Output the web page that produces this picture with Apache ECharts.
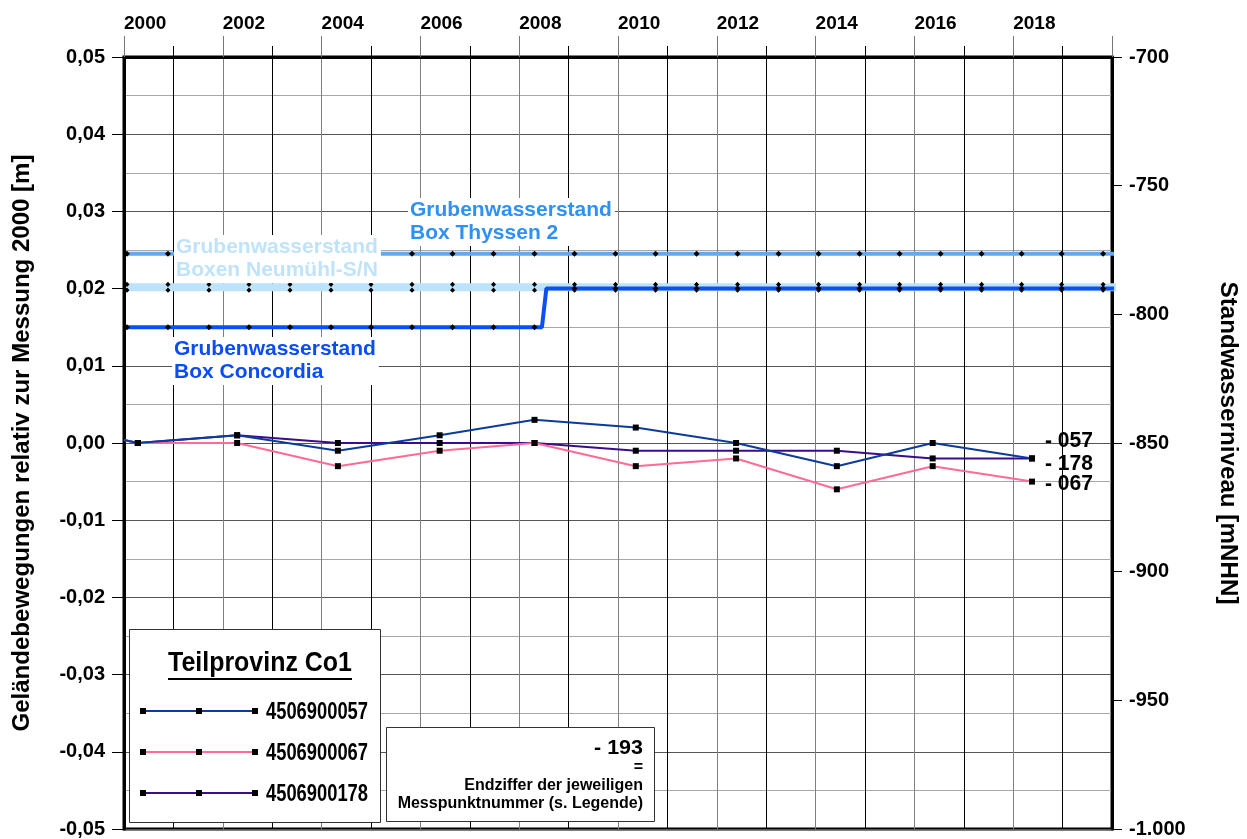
<!DOCTYPE html>
<html>
<head>
<meta charset="utf-8">
<script src="https://cdn.jsdelivr.net/npm/echarts@6/dist/echarts.min.js"></script>
<style>
  html, body { margin: 0; padding: 0; background: #fff; }
  #chart { width: 1247px; height: 839px; }
</style>
</head>
<body>
<div id="chart"></div>
<script>
// measurement campaigns (decimal years)
const years = [2000.28, 2002.29, 2004.33, 2006.39, 2008.31, 2010.36, 2012.39, 2014.43, 2016.37, 2018.38];
const mp057 = [0.000, 0.001, -0.001, 0.001, 0.003, 0.002, 0.000, -0.003, 0.000, -0.002];
const mp067 = [0.000, 0.000, -0.003, -0.001, 0.000, -0.003, -0.002, -0.006, -0.003, -0.005];
const mp178 = [0.000, 0.001, 0.000, 0.000, 0.000, -0.001, -0.001, -0.001, -0.002, -0.002];
const leadInYear = 2000.0;
const leadInValue = 0.0004;

// groundwater levels (right axis, mNHN)
const gwYears = [2000.06, 2000.89, 2001.72, 2002.53, 2003.36, 2004.19, 2005.00, 2005.83, 2006.65,
  2007.48, 2008.31, 2009.12, 2009.95, 2010.76, 2011.59, 2012.42, 2013.25, 2014.06, 2014.89,
  2015.70, 2016.53, 2017.36, 2018.17, 2018.98, 2019.82, 2020.10];
const thyssen = [-776.5, -776.5, -776.5, -776.5, -776.5, -776.5, -776.5, -776.5, -776.5,
  -776.5, -776.5, -776.5, -776.5, -776.5, -776.5, -776.5, -776.5, -776.5, -776.5,
  -776.5, -776.5, -776.5, -776.5, -776.5, -776.5, -776.5];
const neumuehl = [-789.5, -789.5, -789.5, -789.5, -789.5, -789.5, -789.5, -789.5, -789.5,
  -789.5, -789.5, -789.5, -789.5, -789.5, -789.5, -789.5, -789.5, -789.5, -789.5,
  -789.5, -789.5, -789.5, -789.5, -789.5, -789.5, -789.5];
const concordiaYears = [2000.06, 2000.89, 2001.72, 2002.53, 2003.36, 2004.19, 2005.00, 2005.83, 2006.65,
  2007.48, 2008.31, 2008.46, 2008.55, 2009.12, 2009.95, 2010.76, 2011.59, 2012.42, 2013.25, 2014.06,
  2014.89, 2015.70, 2016.53, 2017.36, 2018.17, 2018.98, 2019.82, 2020.10];
const concordia = [-805, -805, -805, -805, -805, -805, -805, -805, -805,
  -805, -805, -805, -790, -790, -790, -790, -790, -790, -790, -790,
  -790, -790, -790, -790, -790, -790, -790, -790];

const xTicks = [2000, 2002, 2004, 2006, 2008, 2010, 2012, 2014, 2016, 2018];
const legendNames = ['4506900057', '4506900067', '4506900178'];
const endLabels = ['- 057', '- 178', '- 067'];

const SANS = '"Liberation Sans", Arial, sans-serif';

const measurementDefs = [
  {name: legendNames[0], values: mp057, color: '#0b3c9c'},
  {name: legendNames[1], values: mp067, color: '#ff6b93'},
  {name: legendNames[2], values: mp178, color: '#3b0c8c'},
];

// no narrow font installed: squeeze bold sans text to the width it has in the original
const measureCtx = document.createElement('canvas').getContext('2d');
function squeeze(text, font, width) {
  measureCtx.font = font;
  return width / measureCtx.measureText(text).width;
}

function edgePoint(x, y) {
  return {value: [x, y], symbol: 'none'};
}

const series = [];

// groundwater first so the thin measurement lines sit on top
series.push({
  name: 'Neumühl',
  type: 'line',
  yAxisIndex: 1,
  data: gwYears.map((x, i) => i === gwYears.length - 1 ? edgePoint(x, neumuehl[i]) : [x, neumuehl[i]]),
  lineStyle: {color: '#bde3fa', width: 8},
  symbol: 'path://M0,0 L1,1.2 L0,2.4 L-1,1.2 Z M0,2.6 L1,3.8 L0,5 L-1,3.8 Z',
  symbolSize: [5, 11],
  itemStyle: {color: '#000'},
  showAllSymbol: true,
  clip: true,
  silent: true,
  z: 2,
});
series.push({
  name: 'Thyssen 2',
  type: 'line',
  yAxisIndex: 1,
  data: gwYears.map((x, i) => i === gwYears.length - 1 ? edgePoint(x, thyssen[i]) : [x, thyssen[i]]),
  lineStyle: {color: '#62a9f2', width: 4},
  symbol: 'diamond',
  symbolSize: 6,
  itemStyle: {color: '#000'},
  showAllSymbol: true,
  clip: true,
  silent: true,
  z: 3,
});
series.push({
  name: 'Concordia',
  type: 'line',
  yAxisIndex: 1,
  data: concordiaYears.map((x, i) => {
    const stepPoint = i === 11 || i === 12 || i === concordiaYears.length - 1;
    return stepPoint ? edgePoint(x, concordia[i]) : [x, concordia[i]];
  }),
  lineStyle: {color: '#0a50f5', width: 4},
  symbol: 'diamond',
  symbolSize: 6,
  itemStyle: {color: '#000'},
  showAllSymbol: true,
  clip: true,
  silent: true,
  z: 4,
});

measurementDefs.forEach((def, index) => {
  series.push({
    name: def.name,
    type: 'line',
    yAxisIndex: 0,
    data: [edgePoint(leadInYear, leadInValue)].concat(years.map((x, i) => [x, def.values[i]])),
    lineStyle: {color: def.color, width: 2},
    symbol: 'rect',
    symbolSize: 6,
    itemStyle: {color: '#000'},
    showAllSymbol: true,
    clip: true,
    silent: true,
    z: 10 - index,
  });
});

const graphics = [];

// axis titles
const leftTitle = 'Geländebewegungen relativ zur Messung 2000 [m]';
const rightTitle = 'Standwasserniveau [mNHN]';
const titleFont = 'bold 24px ' + SANS;
graphics.push({
  type: 'text', z: 100, x: 22, y: 443, rotation: Math.PI / 2,
  scaleX: squeeze(leftTitle, titleFont, 577),
  style: {text: leftTitle, font: titleFont, fill: '#000', align: 'center', verticalAlign: 'middle'},
});
graphics.push({
  type: 'text', z: 100, x: 1228, y: 443, rotation: -Math.PI / 2,
  scaleX: squeeze(rightTitle, titleFont, 323),
  style: {text: rightTitle, font: titleFont, fill: '#000', align: 'center', verticalAlign: 'middle'},
});

// legend box
const legendRows = [711, 752, 793];
graphics.push({
  type: 'rect', z: 100,
  shape: {x: 129.5, y: 629.5, width: 251, height: 193},
  style: {fill: '#fff', stroke: '#333', lineWidth: 1},
});
const legendTitle = 'Teilprovinz Co1';
const legendTitleFont = 'bold 28px ' + SANS;
graphics.push({
  type: 'text', z: 101, x: 260, y: 663,
  scaleX: squeeze(legendTitle, legendTitleFont, 184),
  style: {text: legendTitle, font: legendTitleFont, fill: '#000', align: 'center', verticalAlign: 'middle'},
});
graphics.push({
  type: 'line', z: 101,
  shape: {x1: 168, y1: 679, x2: 352, y2: 679},
  style: {stroke: '#000', lineWidth: 2},
});
const legendFont = 'bold 24px ' + SANS;
measurementDefs.forEach((def, i) => {
  const y = legendRows[i];
  graphics.push({
    type: 'line', z: 101,
    shape: {x1: 143, y1: y, x2: 255, y2: y},
    style: {stroke: def.color, lineWidth: 2},
  });
  [143, 199, 255].forEach(x => {
    graphics.push({
      type: 'rect', z: 102,
      shape: {x: x - 3, y: y - 3, width: 6, height: 6},
      style: {fill: '#000'},
    });
  });
  graphics.push({
    type: 'text', z: 101, x: 266, y: y + 1,
    scaleX: squeeze(def.name, legendFont, 102),
    style: {text: def.name, font: legendFont, fill: '#000', verticalAlign: 'middle'},
  });
});

// explanation box
graphics.push({
  type: 'rect', z: 100,
  shape: {x: 386.5, y: 727.5, width: 268, height: 94},
  style: {fill: '#fff', stroke: '#333', lineWidth: 1},
});
const noteFont = 'bold 16px ' + SANS;
graphics.push({
  type: 'text', z: 101, x: 643, y: 748,
  scaleX: squeeze('- 193', 'bold 21px ' + SANS, 49),
  style: {text: '- 193', font: 'bold 21px ' + SANS, fill: '#000', align: 'right', verticalAlign: 'middle'},
});
graphics.push({
  type: 'text', z: 101, x: 643, y: 768,
  style: {text: '=', font: noteFont, fill: '#000', align: 'right', verticalAlign: 'middle'},
});
graphics.push({
  type: 'text', z: 101, x: 643, y: 786,
  style: {text: 'Endziffer der jeweiligen', font: noteFont, fill: '#000', align: 'right', verticalAlign: 'middle'},
});
graphics.push({
  type: 'text', z: 101, x: 643, y: 804,
  style: {text: 'Messpunktnummer (s. Legende)', font: noteFont, fill: '#000', align: 'right', verticalAlign: 'middle'},
});

// groundwater captions with white backing
const captions = [
  {text: 'Grubenwasserstand\nBox Thyssen 2', x: 408, y: 198, color: '#2f90f5'},
  {text: 'Grubenwasserstand\nBoxen Neumühl-S/N', x: 174, y: 235, color: '#bfe3fb'},
  {text: 'Grubenwasserstand\nBox Concordia', x: 172, y: 337, color: '#0a4cf5'},
];
captions.forEach(c => {
  graphics.push({
    type: 'text', z: 100, x: c.x, y: c.y,
    style: {
      text: c.text, font: 'bold 21px ' + SANS, fill: c.color,
      lineHeight: 23, backgroundColor: '#fff', padding: [1, 3, 1, 2],
    },
  });
});

// end-digit labels at the right of the series
const endLabelY = [441, 464, 484];
const endFont = 'bold 22px ' + SANS;
endLabels.forEach((t, i) => {
  graphics.push({
    type: 'text', z: 101, x: 1045, y: endLabelY[i],
    scaleX: squeeze(t, endFont, 48),
    style: {text: t, font: endFont, fill: '#000', verticalAlign: 'middle'},
  });
});

const chart = echarts.init(document.getElementById('chart'), null, {renderer: 'canvas'});
chart.setOption({
  animation: false,
  backgroundColor: '#fff',
  grid: {
    left: 124, right: 135, top: 57, bottom: 10,
    outerBoundsMode: 'none',
    show: true, borderColor: '#000', borderWidth: 3,
  },
  xAxis: {
    type: 'value',
    position: 'top',
    min: 2000, max: 2020, interval: 2,
    axisLine: {show: true, onZero: false, lineStyle: {color: '#000', width: 3}},
    axisTick: {show: true, length: 21, lineStyle: {color: '#777', width: 1}},
    minorTick: {show: true, splitNumber: 2, length: 11, lineStyle: {color: '#000', width: 1}},
    axisLabel: {
      margin: 24, align: 'left',
      color: '#000', fontFamily: SANS, fontWeight: 'bold', fontSize: 19,
      formatter: v => (xTicks.indexOf(v) >= 0 ? String(v) : ''),
    },
    splitLine: {show: true, lineStyle: {color: '#808080', width: 1}},
    minorSplitLine: {show: true, lineStyle: {color: '#000', width: 1}},
  },
  yAxis: [
    {
      type: 'value',
      position: 'left',
      min: -0.05, max: 0.05, interval: 0.01,
      axisLine: {show: true, onZero: false, lineStyle: {color: '#000', width: 3}},
      axisTick: {show: true, length: 12, lineStyle: {color: '#000', width: 1}},
      axisLabel: {
        margin: 19, color: '#000', fontFamily: SANS, fontWeight: 'bold', fontSize: 20,
        formatter: v => v.toFixed(2).replace('.', ','),
      },
      splitLine: {show: true, lineStyle: {color: '#555', width: 1}},
      minorTick: {show: false, splitNumber: 2},
      minorSplitLine: {show: true, lineStyle: {color: '#a8a8a8', width: 1}},
    },
    {
      type: 'value',
      position: 'right',
      min: -1000, max: -700, interval: 50,
      axisLine: {show: true, onZero: false, lineStyle: {color: '#000', width: 3}},
      axisTick: {show: true, length: 10, lineStyle: {color: '#000', width: 1}},
      axisLabel: {
        margin: 17, color: '#000', fontFamily: SANS, fontWeight: 'bold', fontSize: 20,
        formatter: v => (v === -1000 ? '-1.000' : String(v)),
      },
      splitLine: {show: false},
    },
  ],
  series: series,
  graphic: graphics,
});
</script>
</body>
</html>
